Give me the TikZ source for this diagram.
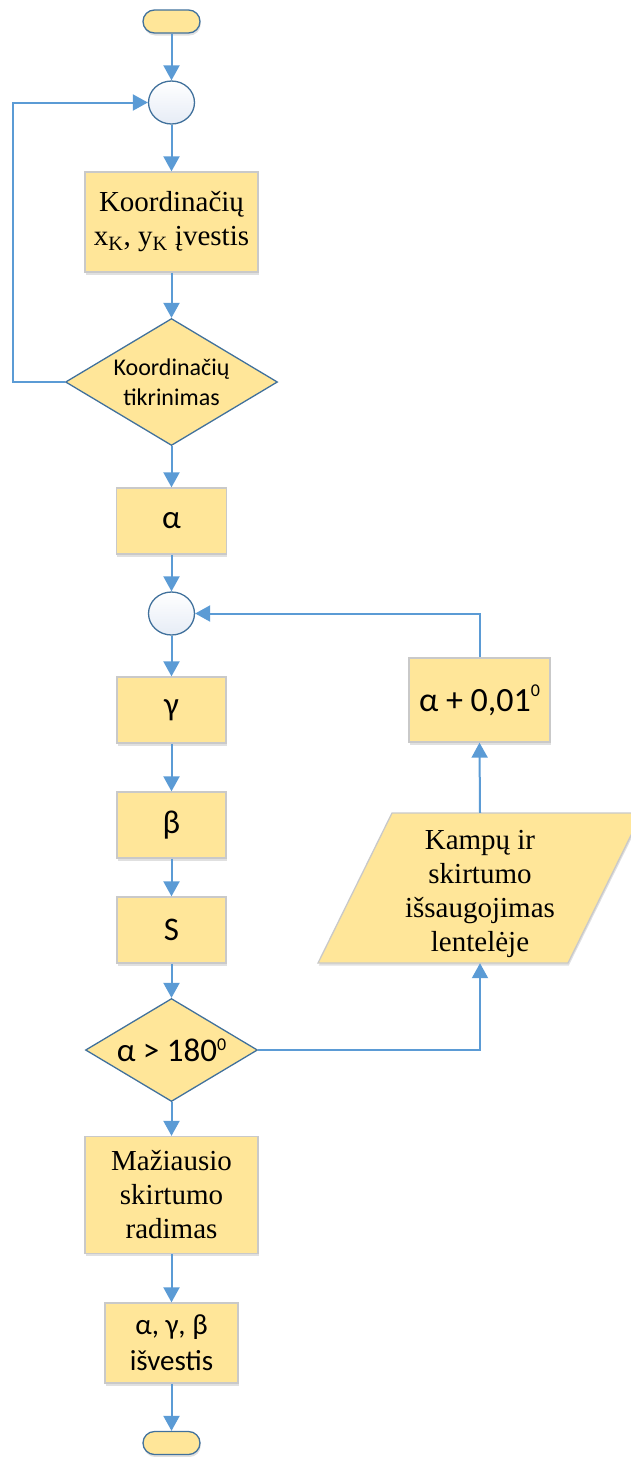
\documentclass[tikz,border=0pt]{standalone}
\usepackage{fontspec}
\setmainfont{Liberation Serif}
\newfontfamily\calib{Carlito}
\usetikzlibrary{shapes.geometric,arrows.meta,shadows}
\definecolor{yel}{HTML}{FFE699}
\definecolor{boxline}{HTML}{C9C9C9}
\definecolor{darkline}{HTML}{41719C}
\definecolor{arrowblue}{HTML}{5B9BD5}
\definecolor{circfill}{HTML}{E6ECF6}
\newcommand\serifbig{\fontsize{29}{34}\selectfont}
\newcommand\calibsmall{\calib\fontsize{24}{30}\selectfont}
\newcommand\calibmid{\calib\fontsize{29}{36}\selectfont}
\newcommand\calibbig{\calib\fontsize{33}{38}\selectfont}
\newcommand\calibhuge{\calib\fontsize{34}{40}\selectfont}
% small raised degree-style zero
\newcommand\supzero[1]{\raisebox{#1}{\fontsize{18}{18}\selectfont 0}}
\begin{document}
\begin{tikzpicture}[x=1pt,y=-1pt,
  softshadow/.style={drop shadow={shadow xshift=0.8pt, shadow yshift=-2.5pt, opacity=0.12, fill=black}},
  proc/.style={rectangle, fill=yel, draw=boxline, line width=1.3pt, align=center, inner sep=0pt, softshadow},
  term/.style={rectangle, rounded corners=11.5pt, minimum width=57, minimum height=23, fill=yel, draw=darkline, line width=1.3pt, inner sep=0pt, softshadow},
  conn/.style={ellipse, minimum width=46, minimum height=43, inner sep=0pt, draw=darkline, line width=1.3pt, top color=white, bottom color=circfill},
  dec/.style={diamond, inner sep=0pt, fill=yel, draw=darkline, line width=1.3pt},
  paraframe/.style={fill=yel, draw=boxline, line width=1.3pt, softshadow},
  inlabel/.style={align=center, inner sep=0pt},
  arr/.style={draw=arrowblue, line width=2pt, -{Triangle[length=15pt, width=16pt]}}
]
\useasboundingbox (0,0) rectangle (630,1457);

% main column
\node[term] (start) at (171.5,21.5) {};
\node[conn] (c1) at (171.5,102.5) {};
\node[proc, minimum width=173, minimum height=100, font=\serifbig] (coord) at (171.5,222)
  {Koordinačių\\x\textsubscript{K}, y\textsubscript{K} įvestis};
\node[dec, minimum width=212, minimum height=127,
  label={[inlabel, font=\calibsmall]center:Koordinačių\\tikrinimas}] (check) at (171.5,382) {};
\node[proc, minimum width=110, minimum height=66, font=\calibbig] (alpha) at (171.5,521) {α};
\node[conn] (c2) at (171.5,613.5) {};
\node[proc, minimum width=109, minimum height=66, font=\calibbig] (gamma) at (171.5,710) {γ};
\node[proc, minimum width=109, minimum height=66, font=\calibbig] (beta) at (171.5,825) {β};
\node[proc, minimum width=109, minimum height=66, font=\calibbig] (s) at (171.5,930) {S};
\node[dec, minimum width=172, minimum height=103,
  label={[inlabel, font=\calibbig]center:α > 180\supzero{11pt}}] (cmp) at (171.5,1050) {};
\node[proc, minimum width=173, minimum height=117, font=\serifbig] (least) at (171.5,1195)
  {Mažiausio\\skirtumo\\radimas};
\node[proc, minimum width=133, minimum height=80, font=\calibmid] (out) at (171.5,1343)
  {α, γ, β\\išvestis};
\node[term] (stop) at (171.5,1443) {};

% right branch: increment box and the slanted data block
\node[proc, minimum width=141, minimum height=84, font=\calibhuge] (inc) at (479.5,700)
  {α + 0,01\supzero{15pt}};
\path[paraframe] (318,963) -- (568,963) -- (642,813) -- (392,813) -- cycle;
\node[minimum width=250, minimum height=150, inner sep=0pt,
  label={[inlabel, font=\serifbig, yshift=-6pt]center:Kampų ir\\skirtumo\\išsaugojimas\\lentelėje}] (save) at (480,888) {};

% connectors
\draw[arr] (start) -- (c1);
\draw[arr] (c1) -- (coord);
\draw[arr] (coord) -- (check);
\draw[arr] (check) -- (alpha);
\draw[arr] (alpha) -- (c2);
\draw[arr] (c2) -- (gamma);
\draw[arr] (gamma) -- (beta);
\draw[arr] (beta) -- (s);
\draw[arr] (s) -- (cmp);
\draw[arr] (cmp) -- (least);
\draw[arr] (least) -- (out);
\draw[arr] (out) -- (stop);

\coordinate (loopL) at (13,382);
\draw[arr] (check.west) -- (loopL) |- (c1.west);
\draw[arr] (cmp.east) -| (save.south);
\draw[arr] (save.north) -- (inc.south);
\draw[arr] (inc.north) |- (c2.east);
\end{tikzpicture}
\end{document}
